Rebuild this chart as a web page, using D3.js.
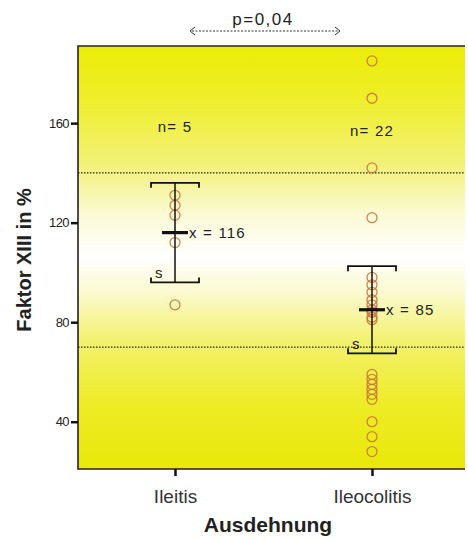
<!DOCTYPE html>
<html>
<head>
<meta charset="utf-8">
<script src="https://cdn.jsdelivr.net/npm/d3@7"></script>
<style>
  html, body { margin: 0; padding: 0; background: #ffffff; }
  svg { display: block; }
</style>
</head>
<body>
<svg id="chart" width="468" height="540"></svg>
<script>
// Groups and their individual Faktor XIII measurements (%)
const categories = ["Ileitis", "Ileocolitis"];
const ileitisValues = [131, 127, 123, 112, 87];
const ileocolitisValues = [185, 170, 142, 122, 98, 95, 92, 89, 87, 85, 84, 82, 81,
                           59, 57, 55, 53, 51, 49, 40, 34, 28];
const groupMeans = [116, 85];
const groupSD = [20, 17.5];
const groupN = [5, 22];
const yTicks = [40, 80, 120, 160];
const referenceLines = [140, 70];
const pLabel = "p=0,04";

const svg = d3.select("#chart");
const plot = { left: 78, right: 465, top: 46, bottom: 469 };
const font = "Arial, 'Liberation Sans', sans-serif";

const y = d3.scaleLinear().domain([21, 191]).range([plot.bottom, plot.top]);
const x = d3.scalePoint().domain(categories).range([175, 372]);

// Background gradient: yellow at the edges, fading to white in the middle
const defs = svg.append("defs");
const grad = defs.append("linearGradient")
  .attr("id", "bg").attr("x1", 0).attr("y1", 0).attr("x2", 0).attr("y2", 1);
[
  [0.00, "#ecec08"], [0.12, "#eeee28"], [0.28, "#f3f178"], [0.40, "#fbfad6"],
  [0.50, "#ffffff"], [0.58, "#fbfad0"], [0.70, "#f3f16c"], [0.84, "#eeec28"],
  [1.00, "#e9e808"]
].forEach(([o, c]) => grad.append("stop").attr("offset", o).attr("stop-color", c));

svg.append("rect")
  .attr("x", plot.left).attr("y", plot.top)
  .attr("width", plot.right - plot.left).attr("height", plot.bottom - plot.top)
  .attr("fill", "url(#bg)");

// Dotted reference lines
svg.selectAll("line.ref").data(referenceLines).join("line")
  .attr("class", "ref")
  .attr("x1", plot.left).attr("x2", plot.right)
  .attr("y1", d => y(d)).attr("y2", d => y(d))
  .attr("stroke", "#222").attr("stroke-width", 1.3)
  .attr("stroke-dasharray", "1.5,1.5");

// Plot frame (left, top, bottom)
svg.append("path")
  .attr("d", `M${plot.right},${plot.top}H${plot.left}V${plot.bottom}H${plot.right}`)
  .attr("fill", "none").attr("stroke", "#2a1f1f").attr("stroke-width", 1.6);

// Y axis
const yAxis = d3.axisLeft(y).tickValues(yTicks).tickSize(7).tickPadding(2);
const yg = svg.append("g").attr("transform", `translate(${plot.left},0)`).call(yAxis);
yg.select(".domain").remove();
yg.selectAll(".tick line").attr("stroke", "#111").attr("stroke-width", 2.5);
yg.selectAll(".tick text")
  .attr("font-family", font)
  .attr("font-size", 13).attr("fill", "#222").attr("letter-spacing", "-0.6");

// X axis
const xAxis = d3.axisBottom(x).tickSize(7).tickPadding(14);
const xg = svg.append("g").attr("transform", `translate(0,${plot.bottom})`).call(xAxis);
xg.select(".domain").remove();
xg.selectAll(".tick line").attr("stroke", "#111").attr("stroke-width", 2.5);
xg.selectAll(".tick text")
  .attr("font-family", font)
  .attr("font-size", 19).attr("fill", "#333");

// Axis titles
svg.append("text")
  .attr("x", 268).attr("y", 532)
  .attr("text-anchor", "middle")
  .attr("font-family", font)
  .attr("font-weight", "bold").attr("font-size", 21).attr("fill", "#222")
  .text("Ausdehnung");

svg.append("text")
  .attr("transform", "translate(31,260) rotate(-90)")
  .attr("text-anchor", "middle")
  .attr("font-family", font)
  .attr("font-weight", "bold").attr("font-size", 20).attr("fill", "#222")
  .text("Faktor XIII in %");

// Individual points
const groups = [ileitisValues, ileocolitisValues];
groups.forEach((vals, i) => {
  svg.append("g").selectAll("circle").data(vals).join("circle")
    .attr("cx", x(categories[i]))
    .attr("cy", d => y(d))
    .attr("r", 5)
    .attr("fill", "none")
    .attr("stroke", "#c4703c")
    .attr("stroke-opacity", 0.85)
    .attr("stroke-width", 1.3);
});

// Mean ± SD brackets
const capHalf = 24, capTick = 5, meanHalf = 13;
categories.forEach((c, i) => {
  const cx = x(c);
  const top = y(groupMeans[i] + groupSD[i]);
  const bot = y(groupMeans[i] - groupSD[i]);
  const g = svg.append("g").attr("stroke", "#111").attr("fill", "none");
  g.append("line").attr("x1", cx).attr("x2", cx).attr("y1", top).attr("y2", bot)
    .attr("stroke-width", 1.5);
  g.append("path")
    .attr("d", `M${cx - capHalf},${top + capTick}V${top}H${cx + capHalf}V${top + capTick}`)
    .attr("stroke-width", 1.8);
  g.append("path")
    .attr("d", `M${cx - capHalf},${bot - capTick}V${bot}H${cx + capHalf}V${bot - capTick}`)
    .attr("stroke-width", 1.8);
  g.append("line")
    .attr("x1", cx - meanHalf).attr("x2", cx + meanHalf)
    .attr("y1", y(groupMeans[i])).attr("y2", y(groupMeans[i]))
    .attr("stroke-width", 3.2);

  svg.append("text")
    .attr("x", cx + meanHalf + 1).attr("y", y(groupMeans[i]) + 5)
    .attr("font-family", font).attr("font-size", 15).attr("letter-spacing", 1.2)
    .attr("fill", "#222")
    .text(`x = ${groupMeans[i]}`);

  svg.append("text")
    .attr("x", cx - capHalf + 4).attr("y", bot - 4)
    .attr("font-family", font).attr("font-size", 15).attr("fill", "#222")
    .text("s");

  svg.append("text")
    .attr("x", cx).attr("y", i === 0 ? 132 : 136)
    .attr("text-anchor", "middle")
    .attr("font-family", font).attr("font-size", 15).attr("letter-spacing", 1.2)
    .attr("fill", "#222")
    .text(`n= ${groupN[i]}`);
});

// Significance bracket
const pLeft = 190, pRight = 340, pY = 31;
svg.append("line")
  .attr("x1", pLeft + 2).attr("x2", pRight - 2).attr("y1", pY).attr("y2", pY)
  .attr("stroke", "#333").attr("stroke-width", 1).attr("stroke-dasharray", "2,1.5");
svg.append("path")
  .attr("d", `M${pLeft + 5},${pY - 4}L${pLeft},${pY}L${pLeft + 5},${pY + 4}`)
  .attr("fill", "none").attr("stroke", "#333").attr("stroke-width", 1);
svg.append("path")
  .attr("d", `M${pRight - 5},${pY - 4}L${pRight},${pY}L${pRight - 5},${pY + 4}`)
  .attr("fill", "none").attr("stroke", "#333").attr("stroke-width", 1);
svg.append("text")
  .attr("x", 263).attr("y", 25)
  .attr("text-anchor", "middle")
  .attr("font-family", font).attr("font-size", 17).attr("letter-spacing", 1.5)
  .attr("fill", "#222")
  .text(pLabel);
</script>
</body>
</html>
